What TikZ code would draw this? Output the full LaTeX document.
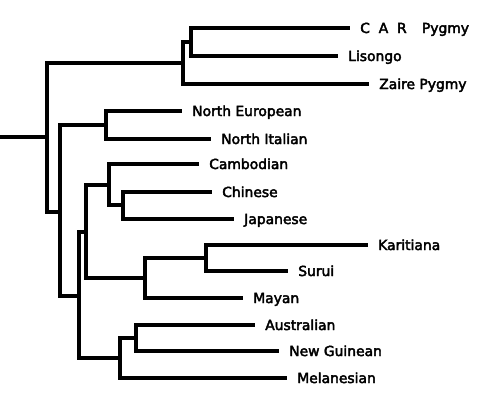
\documentclass[tikz,border=0pt]{standalone}
\usepackage{fontspec}
\setmainfont{DejaVu Sans}
\newfontfamily\leaffont[FakeBold=3]{DejaVu Sans}
\begin{document}
\begin{tikzpicture}[x=.75pt,y=-.75pt,line width=2.4pt,
  leaf/.style={anchor=west,inner xsep=6.5pt,inner ysep=0pt,text height=7.5pt,text depth=0pt,font=\leaffont\fontsize{10.4}{12}\selectfont}]
\useasboundingbox (0,0) rectangle (490,400);
% inner nodes
\foreach \n/\x/\y in {root/47/137,afr/183/63,cl/191/42,nonafr/60/212,eur/106/125,rest/79/296,
  asam/86/232,asia/109/185,chjp/123/205,amer/145/278,karsur/206/258,ocean/120/358,ausng/136/338}
{
    \coordinate (\n) at (\x,\y);
}
\coordinate (base) at (0,137);
% leaves
\foreach \n/\x/\y/\t in {car/350/28/{C\ \ A\ \ R\hspace{1.1em}Pygmy},lis/338/56/Lisongo,zai/369/84/Zaire Pygmy,
  neu/182/111/North European,nit/211/139/North Italian,cam/199/164/Cambodian,chi/212/192/Chinese,
  jap/234/219/Japanese,kar/368/245/Karitiana,sur/288/271/Surui,may/243/298/Mayan,
  aus/255/325/Australian,ng/279/351/New Guinean,mel/287/378/Melanesian}
{
    \node[leaf] (\n) at (\x,\y) {\t};
}
\draw (base)--(root);
\foreach \p/\c in {root/afr,root/nonafr,afr/cl,afr/zai,cl/car,cl/lis,nonafr/eur,nonafr/rest,
  eur/neu,eur/nit,rest/asam,rest/ocean,asam/asia,asam/amer,asia/cam,asia/chjp,chjp/chi,chjp/jap,
  amer/karsur,amer/may,karsur/kar,karsur/sur,ocean/ausng,ocean/mel,ausng/aus,ausng/ng}
{
    \draw (\p) |- (\c);
}
\end{tikzpicture}
\end{document}
